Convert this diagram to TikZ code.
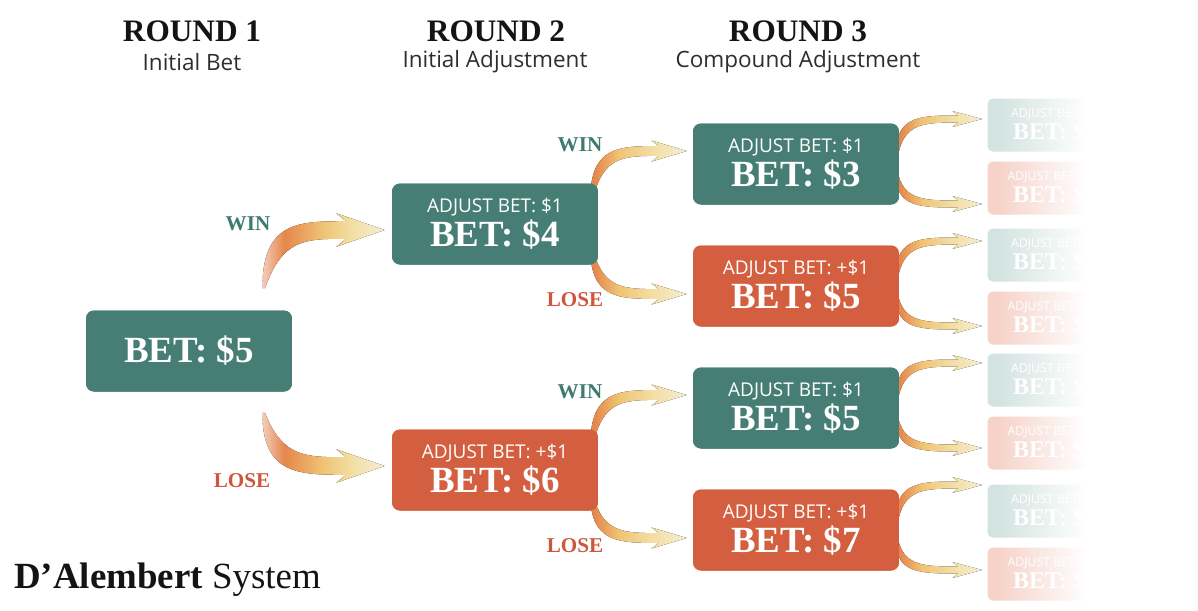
\documentclass[tikz,border=0pt]{standalone}
\usepackage{fontspec}
\setmainfont{Liberation Serif}
\newfontfamily\opensans{Open Sans}
\usetikzlibrary{calc,fadings,positioning}

\definecolor{wingreen}{HTML}{467D74}
\definecolor{losered}{HTML}{D35F40}
\definecolor{fadegreen}{HTML}{D2E3E0}
\definecolor{fadered}{HTML}{F6D2C8}
\definecolor{winink}{HTML}{3D7A70}
\definecolor{loseink}{HTML}{CF563B}
\definecolor{headink}{HTML}{141414}
\definecolor{subink}{HTML}{2E2E2E}
\definecolor{arrowtail}{HTML}{F2CDBA}
\definecolor{arroworange}{HTML}{E5874C}
\definecolor{arrowgold}{HTML}{F0C475}
\definecolor{arrowyellow}{HTML}{F3DFA6}
\definecolor{arrowpale}{HTML}{F6EDD3}

\newcommand{\adjfont}{\opensans\fontsize{10.8}{19.3}\selectfont}
\newcommand{\betfont}{\rmfamily\bfseries\fontsize{21}{23}\selectfont}
\newcommand{\fadefont}{\opensans\fontsize{7}{12.5}\selectfont}
\newcommand{\fadebet}{\rmfamily\bfseries\fontsize{13.6}{15}\selectfont}

\pgfdeclarehorizontalshading{longarrow}{100bp}{color(0bp)=(arrowtail); color(25bp)=(arrowtail);
	color(34bp)=(arroworange); color(50bp)=(arrowgold); color(62bp)=(arrowyellow); color(75bp)=(arrowpale); color(100bp)=(arrowpale)}
\pgfdeclarehorizontalshading{shortarrow}{100bp}{color(0bp)=(arroworange); color(27bp)=(arroworange);
	color(40bp)=(arrowgold); color(58bp)=(arrowyellow); color(75bp)=(arrowpale); color(100bp)=(arrowpale)}
\tikzfading[name=fadeout, left color=transparent!100, right color=transparent!0]

% curved tapering arrow: [opts] tail, tip, neck half width, head half width, head length
\newcommand{\betarrow}[6][]{%
  \fill[shading=shortarrow,#1] let \p1=#2, \p2=#3, \n1={sign(\y2-\y1)} in
    (\x1,\y1) .. controls (\x1,{\y2+\n1*#4}) and ({\x1+0.3*(\x2-\x1)},{\y2+\n1*#4}) .. ({\x2-#6},{\y2+\n1*#4})
    -- ({\x2-1.25*#6},{\y2+\n1*#5}) -- (\x2,\y2) -- ({\x2-1.25*#6},{\y2-\n1*#5})
    -- ({\x2-#6},{\y2-\n1*#4}) .. controls ({\x1+0.35*(\x2-\x1)},{\y2-\n1*#4}) and ({\x1+2*#4+1.5pt},{\y2-\n1*#4}) .. ({\x1+1.5pt},\y1) -- cycle;}

\begin{document}
\begin{tikzpicture}[
		x=0.02cm, y=-0.02cm,
		every node/.style={align=center},
		betbox/.style={rounded corners=4.5pt, minimum width=4.12cm, minimum height=1.62cm, inner sep=0pt, text=white, font=\adjfont},
		winbox/.style={betbox, fill=wingreen},
		losebox/.style={betbox, fill=losered},
		fadebox/.style={rounded corners=3pt, minimum width=2.7cm, minimum height=1.06cm, inner sep=0pt, text=white, font=\fadefont},
		roundlbl/.style={font=\bfseries\fontsize{17.8}{20}\selectfont, text=headink},
		sublbl/.style={font=\opensans\fontsize{12.8}{14}\selectfont, text=subink},
		winlbl/.style={font=\bfseries\fontsize{12}{14}\selectfont, text=winink},
		loselbl/.style={winlbl, text=loseink}
	]
		\useasboundingbox[fill=white] (0,0) rectangle (1198,610);

		\node[roundlbl] (h1) at (192,31) {ROUND 1};
		\node[sublbl] (s1) at (192,62) {Initial Bet};
		\node[roundlbl] (h2) at (496,31) {ROUND 2};
		\node[sublbl] (s2) at (495,62) {Initial Adjustment};
		\node[roundlbl] (h3) at (798,31) {ROUND 3};
		\node[sublbl] (s3) at (798,62) {Compound Adjustment};

		% boxes are placed first so the arrows can refer to them
		\path
			node[winbox] (root) at (189,351) {{\betfont BET: \$5}}
			node[winbox] (r2win) at (495,224) {ADJUST BET: \$1\\{\betfont BET: \$4}}
			node[losebox] (r2lose) at (495,470) {ADJUST BET: +\$1\\{\betfont BET: \$6}}
			node[winbox] (r3a) at (796,164) {ADJUST BET: \$1\\{\betfont BET: \$3}}
			node[losebox] (r3b) at (796,286) {ADJUST BET: +\$1\\{\betfont BET: \$5}}
			node[winbox] (r3c) at (796,408) {ADJUST BET: \$1\\{\betfont BET: \$5}}
			node[losebox] (r3d) at (796,530) {ADJUST BET: +\$1\\{\betfont BET: \$7}};

		\foreach \i/\y/\c/\a/\b in {1/125/fadegreen/{}/2, 2/188/fadered/+/4, 3/255/fadegreen/{}/4, 4/318/fadered/+/6,
				5/380/fadegreen/{}/4, 6/443/fadered/+/6, 7/511/fadegreen/{}/6, 8/574/fadered/+/8}
			\node[fadebox, fill=\c] (f\i) at (1055,\y) {ADJUST BET: \a\$1\\{\fadebet BET: \$\b}};

		% arrows
		\betarrow[shading=longarrow]{($(root.north east)+(-30,-22)$)}{($(r2win.west)+(-7,6)$)}{5pt}{9.5pt}{22pt}
		\betarrow[shading=longarrow]{($(root.south east)+(-30,21)$)}{($(r2lose.west)+(-7,-4)$)}{5pt}{9.5pt}{22pt}
		\foreach \src/\up/\dn in {r2win/r3a/r3b, r2lose/r3c/r3d} {
			\betarrow{($(\src.north east)+(-8,16)$)}{($(\up.west)+(-6,-13)$)}{2.8pt}{6pt}{16pt}
			\betarrow{($(\src.south east)+(-8,-16)$)}{($(\dn.west)+(-6,8)$)}{2.8pt}{6pt}{16pt}
		}
		\foreach \src/\up/\dn in {r3a/f1/f2, r3b/f3/f4, r3c/f5/f6, r3d/f7/f8} {
			\betarrow{($(\src.north east)+(-3,28)$)}{($(\up.west |- \src.east)+(-5,-45)$)}{2pt}{4.5pt}{13.5pt}
			\betarrow{($(\src.south east)+(-3,-28)$)}{($(\dn.west |- \src.east)+(-5,40)$)}{2pt}{4.5pt}{13.5pt}
		}

		% boxes again on top of the arrow tails
		\path
			node[winbox] at (root) {{\betfont BET: \$5}}
			node[winbox] at (r2win) {ADJUST BET: \$1\\{\betfont BET: \$4}}
			node[losebox] at (r2lose) {ADJUST BET: +\$1\\{\betfont BET: \$6}}
			node[winbox] at (r3a) {ADJUST BET: \$1\\{\betfont BET: \$3}}
			node[losebox] at (r3b) {ADJUST BET: +\$1\\{\betfont BET: \$5}}
			node[winbox] at (r3c) {ADJUST BET: \$1\\{\betfont BET: \$5}}
			node[losebox] at (r3d) {ADJUST BET: +\$1\\{\betfont BET: \$7}};

		\node[winlbl] (w1) at (248,224) {WIN};
		\node[loselbl] (l1) at (242,481) {LOSE};
		\node[winlbl] (w2) at (580,145) {WIN};
		\node[loselbl] (l2) at (575,300) {LOSE};
		\node[winlbl] (w3) at (580,392) {WIN};
		\node[loselbl] (l3) at (575,546) {LOSE};

		% round 4 fades out to the right
		\fill[white, path fading=fadeout] (996,90) rectangle (1086,610);
		\fill[white] (1086,90) rectangle (1198,610);

		\node[anchor=base west, inner sep=0pt, text=headink, font=\fontsize{21}{24}\selectfont] (title) at (14,588) {\textbf{D’Alembert} System};
	\end{tikzpicture}
\end{document}
